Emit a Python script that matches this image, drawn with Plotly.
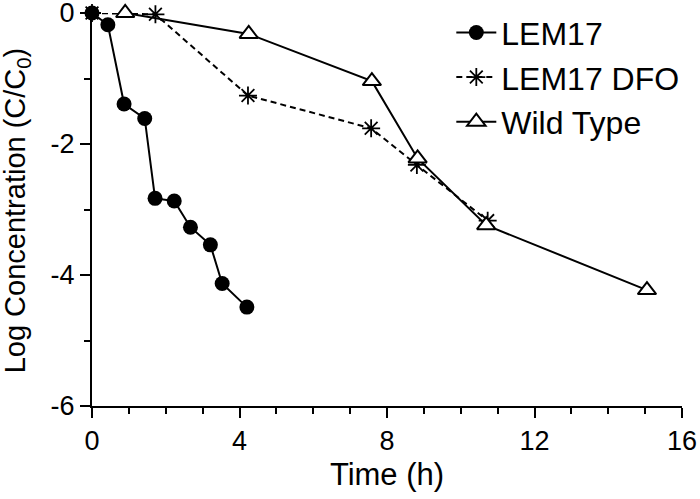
import plotly.graph_objects as go

# Data
lem17_t = [0, 0.43, 0.87, 1.43, 1.71, 2.23, 2.67, 3.21, 3.53, 4.20]
lem17_c = [0, -0.18, -1.39, -1.61, -2.83, -2.87, -3.27, -3.54, -4.13, -4.49]

dfo_t = [0, 1.72, 4.23, 7.57, 8.81, 10.73]
dfo_c = [0, -0.02, -1.26, -1.76, -2.32, -3.17]

wt_t = [0.90, 4.25, 7.59, 8.83, 10.69, 15.05]
wt_c = [0, -0.32, -1.04, -2.22, -3.24, -4.23]

x_ticks = [0, 4, 8, 12, 16]
y_ticks = [0, -2, -4, -6]

FONT = "Liberation Sans, Arial, sans-serif"

fig = go.Figure()
fig.add_trace(go.Scatter(
    x=lem17_t, y=lem17_c, name="LEM17", mode="lines+markers",
    line=dict(color="black", width=2),
    marker=dict(symbol="circle", size=15, color="black"),
    cliponaxis=False,
))
fig.add_trace(go.Scatter(
    x=dfo_t, y=dfo_c, name="LEM17 DFO", mode="lines+markers",
    line=dict(color="black", width=2, dash="6px,4px"),
    marker=dict(symbol="asterisk-open", size=15, color="black",
                line=dict(color="black", width=1.8)),
    cliponaxis=False,
))
fig.add_trace(go.Scatter(
    x=wt_t, y=wt_c, name="Wild Type", mode="lines+markers",
    line=dict(color="black", width=2),
    marker=dict(symbol="triangle-up", size=16, color="white",
                line=dict(color="black", width=2)),
    cliponaxis=False,
))

fig.update_layout(
    width=700, height=499,
    margin=dict(l=92, r=18, t=13, b=93, autoexpand=False),
    paper_bgcolor="white", plot_bgcolor="white",
    font=dict(family=FONT, color="black", size=27),
    showlegend=True,
    legend=dict(
        x=0.609, y=1.02, xanchor="left", yanchor="top",
        font=dict(size=32, family=FONT, color="black"),
        bgcolor="rgba(0,0,0,0)", borderwidth=0,
        itemwidth=40,
    ),
    xaxis=dict(
        range=[0, 16], tickvals=x_ticks, ticktext=[str(v) for v in x_ticks],
        showgrid=False, zeroline=False, automargin=False,
        showline=True, linecolor="black", linewidth=2,
        ticks="outside", ticklen=10, tickwidth=2, tickcolor="black",
        ticklabeloverflow="allow",
        minor=dict(dtick=1, ticks="outside", ticklen=6, tickwidth=2, tickcolor="black", showgrid=False),
        tickfont=dict(size=27, family=FONT),
        title=dict(text="Time (h)", font=dict(size=31, family=FONT), standoff=8),
    ),
    yaxis=dict(
        range=[-6, 0], tickvals=y_ticks, ticktext=[str(v) for v in y_ticks],
        showgrid=False, zeroline=False, automargin=False,
        showline=True, linecolor="black", linewidth=2,
        ticks="outside", ticklen=10, tickwidth=2, tickcolor="black",
        ticklabeloverflow="allow",
        minor=dict(dtick=1, ticks="outside", ticklen=6, tickwidth=2, tickcolor="black", showgrid=False),
        tickfont=dict(size=27, family=FONT),
    ),
    annotations=[dict(
        text="Log Concentration (C/C<sub>0</sub>)",
        xref="paper", yref="paper", x=-0.127, y=0.498,
        xanchor="center", yanchor="middle", textangle=-90, showarrow=False,
        font=dict(size=29, family=FONT, color="black"),
    )],
)

fig.write_html("out.html", config={"displayModeBar": False},
               post_script="document.body.style.margin='0';")
